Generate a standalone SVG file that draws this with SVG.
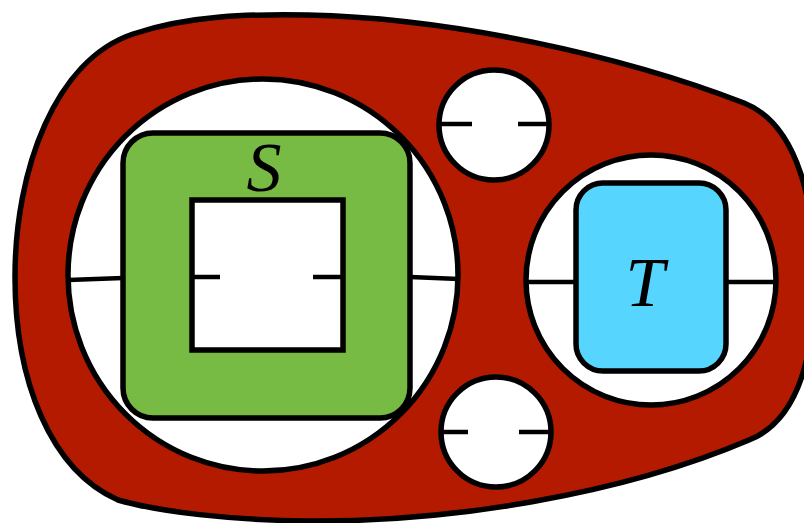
<svg xmlns="http://www.w3.org/2000/svg" width="804" height="523" viewBox="0 0 804 523">
<style>
.ol{stroke:#000;stroke-width:5.5;}
.w{fill:#fff;}
.wire{stroke:#000;stroke-width:4.5;fill:none;}
.lbl{font-family:"Liberation Serif","DejaVu Serif",serif;font-style:italic;font-size:70px;fill:#000;text-anchor:middle;}
</style>
<rect width="804" height="523" fill="#fff"/>
<g id="outer">
<path class="ol" fill="#B31A00" d="M133,34 C190,15 250,14 308,15 C450,18 620,55 744,103 C800,125 815,210 815,275 C815,350 800,420 749,440 C620,495 450,522 308,521 C230,520 160,512 118,500 C50,470 15,380 15,277 C15,170 55,60 133,34 Z"/>
</g>
<g id="left-hole">
<ellipse class="ol w" cx="263" cy="275" rx="195" ry="196"/>
</g>
<g id="top-hole">
<circle class="ol w" cx="494" cy="125" r="55"/>
</g>
<g id="bottom-hole">
<circle class="ol w" cx="496" cy="432" r="55"/>
</g>
<g id="right-hole">
<ellipse class="ol w" cx="651" cy="280" rx="125" ry="125"/>
</g>
<g id="connectors">
<path class="wire" d="M68,280 L123,278"/>
<path class="wire" d="M410,277 L459,279"/>
<path class="wire" d="M192,277 L220,277"/>
<path class="wire" d="M313,277 L343,277"/>
<path class="wire" d="M441,124 L472,124"/>
<path class="wire" d="M518,124 L549,124"/>
<path class="wire" d="M441,432 L468,432"/>
<path class="wire" d="M519,432 L551,432"/>
<path class="wire" d="M526,282 L576,282"/>
<path class="wire" d="M726,282 L776,282"/>
</g>
<g id="S">
<path class="ol" fill="#78BB44" fill-rule="evenodd" d="M153,133 H380 A30,30 0 0 1 410,163 V388 A30,30 0 0 1 380,418 H153 A30,30 0 0 1 123,388 V163 A30,30 0 0 1 153,133 Z M192,200 V350 H343 V200 Z"/>
<text class="lbl" x="264" y="191">S</text>
</g>
<g id="T">
<rect class="ol" fill="#56D5FE" x="576" y="183" width="150" height="188" rx="27"/>
<text class="lbl" x="645" y="306">T</text>
</g>
</svg>
